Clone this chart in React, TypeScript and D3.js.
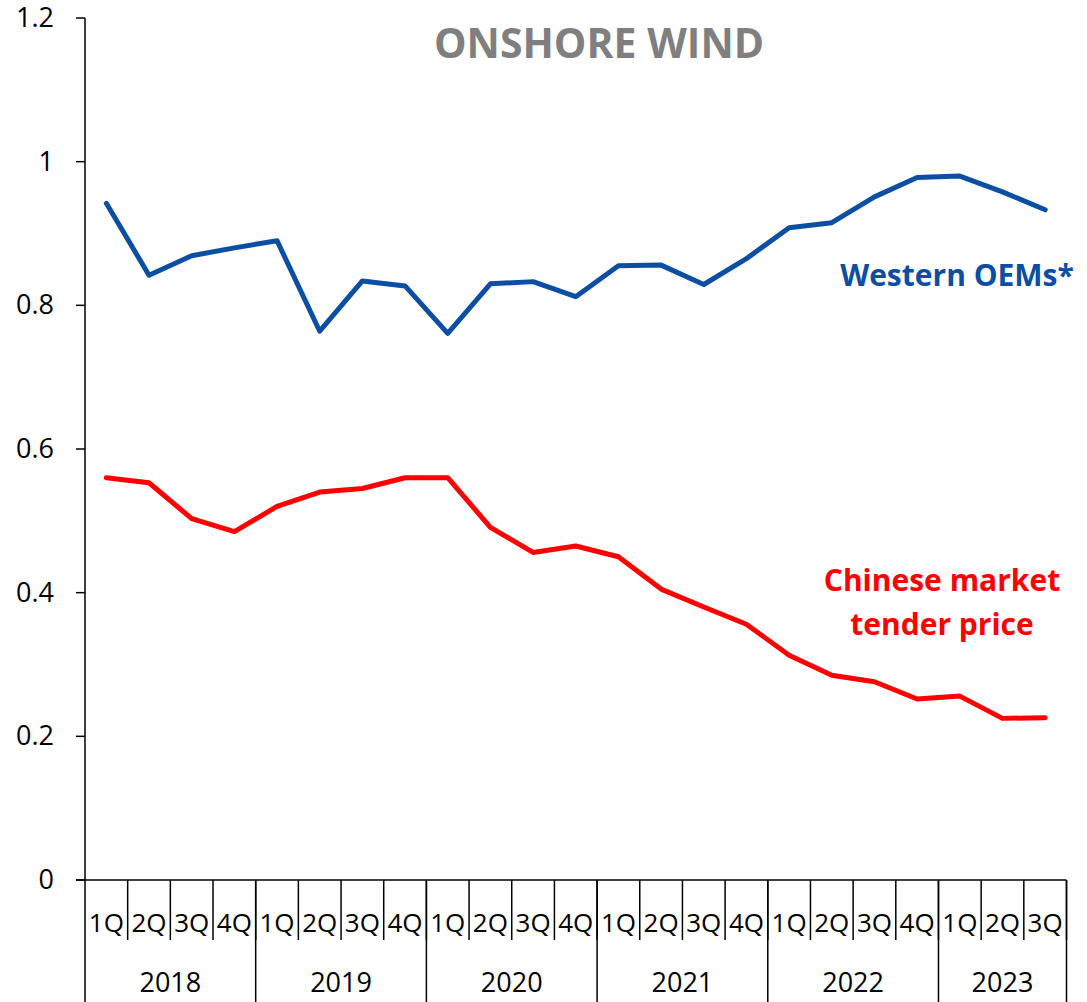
import React from "react";
import * as d3 from "d3";

const years = ["2018", "2019", "2020", "2021", "2022", "2023"];
const quartersPerYear = [4, 4, 4, 4, 4, 3];
const quarterNames = ["1Q", "2Q", "3Q", "4Q"];

const westernOEMs = [
  0.942, 0.842, 0.869, 0.88, 0.89, 0.764, 0.834, 0.827, 0.761, 0.83, 0.833, 0.812,
  0.855, 0.856, 0.829, 0.865, 0.908, 0.915, 0.951, 0.978, 0.98, 0.958, 0.933,
];
const chineseTender = [
  0.56, 0.553, 0.503, 0.485, 0.52, 0.54, 0.545, 0.56, 0.56, 0.491, 0.456, 0.465,
  0.45, 0.405, 0.38, 0.356, 0.313, 0.285, 0.276, 0.252, 0.256, 0.225, 0.226,
];
const yTicks = [0, 0.2, 0.4, 0.6, 0.8, 1, 1.2];

const W = 1087;
const H = 1002;
const FONT = "'Open Sans', 'Noto Sans', sans-serif";

export default function App() {
  const cats: { key: string; q: string; year: string }[] = [];
  years.forEach((yr, yi) => {
    for (let q = 0; q < quartersPerYear[yi]; q++) {
      cats.push({ key: `${yr}-${q}`, q: quarterNames[q], year: yr });
    }
  });
  const x = d3
    .scaleBand<string>()
    .domain(cats.map((c) => c.key))
    .range([85, 1066.5])
    .padding(0);
  const y = d3.scaleLinear().domain([0, 1.2]).range([880, 18]);
  const bw = x.bandwidth();
  const cx = (i: number) => (x(cats[i].key) as number) + bw / 2;

  const line = d3
    .line<number>()
    .x((_, i) => cx(i))
    .y((d) => y(d));

  let start = 0;
  const yearGroups = years.map((yr, yi) => {
    const s = start;
    start += quartersPerYear[yi];
    const x0 = x(cats[s].key) as number;
    const x1 = (x(cats[start - 1].key) as number) + bw;
    return { yr, x0, x1 };
  });

  return (
    <svg
      width={W}
      height={H}
      style={{ position: "absolute", left: 0, top: 0, background: "#fff" }}
      fontFamily={FONT}
    >
      <rect x={0} y={0} width={W} height={H} fill="#fff" />
      <text
        x={599}
        y={58}
        textAnchor="middle"
        fontSize={41}
        fontWeight="bold"
        fill="#7f7f7f"
      >
        ONSHORE WIND
      </text>

      {/* y axis */}
      <line x1={85} x2={85} y1={y(1.2)} y2={H} stroke="#000" strokeWidth={1.5} />
      {yTicks.map((t) => (
        <g key={t}>
          <line x1={76} x2={85} y1={y(t)} y2={y(t)} stroke="#000" strokeWidth={1.5} />
          <text x={54} y={y(t) + 9} textAnchor="end" fontSize={27} fill="#000">
            {String(t)}
          </text>
        </g>
      ))}

      {/* x axis */}
      <line x1={76} x2={1066.5} y1={y(0)} y2={y(0)} stroke="#000" strokeWidth={1.5} />
      {cats.map((c, i) => (
        <g key={c.key}>
          <line
            x1={(x(c.key) as number) + bw}
            x2={(x(c.key) as number) + bw}
            y1={y(0)}
            y2={940}
            stroke="#000"
            strokeWidth={1.5}
          />
          <text x={cx(i)} y={932} textAnchor="middle" fontSize={26} fill="#000">
            {c.q}
          </text>
        </g>
      ))}
      {yearGroups.map((g) => (
        <g key={g.yr}>
          <line x1={g.x1} x2={g.x1} y1={y(0)} y2={H} stroke="#000" strokeWidth={1.5} />
          <text x={(g.x0 + g.x1) / 2} y={992} textAnchor="middle" fontSize={27} fill="#000">
            {g.yr}
          </text>
        </g>
      ))}

      {/* series */}
      <path d={line(westernOEMs) || ""} fill="none" stroke="#0b4ea2" strokeWidth={5} strokeLinejoin="round" strokeLinecap="round" />
      <path d={line(chineseTender) || ""} fill="none" stroke="#ff0000" strokeWidth={5} strokeLinejoin="round" strokeLinecap="round" />

      {/* labels */}
      <text x={957} y={286} textAnchor="middle" fontSize={30} fontWeight="bold" fill="#0b4ea2">
        Western OEMs*
      </text>
      <text x={942} y={591} textAnchor="middle" fontSize={30} fontWeight="bold" fill="#ff0000">
        Chinese market
      </text>
      <text x={942} y={635} textAnchor="middle" fontSize={30} fontWeight="bold" fill="#ff0000">
        tender price
      </text>
    </svg>
  );
}
